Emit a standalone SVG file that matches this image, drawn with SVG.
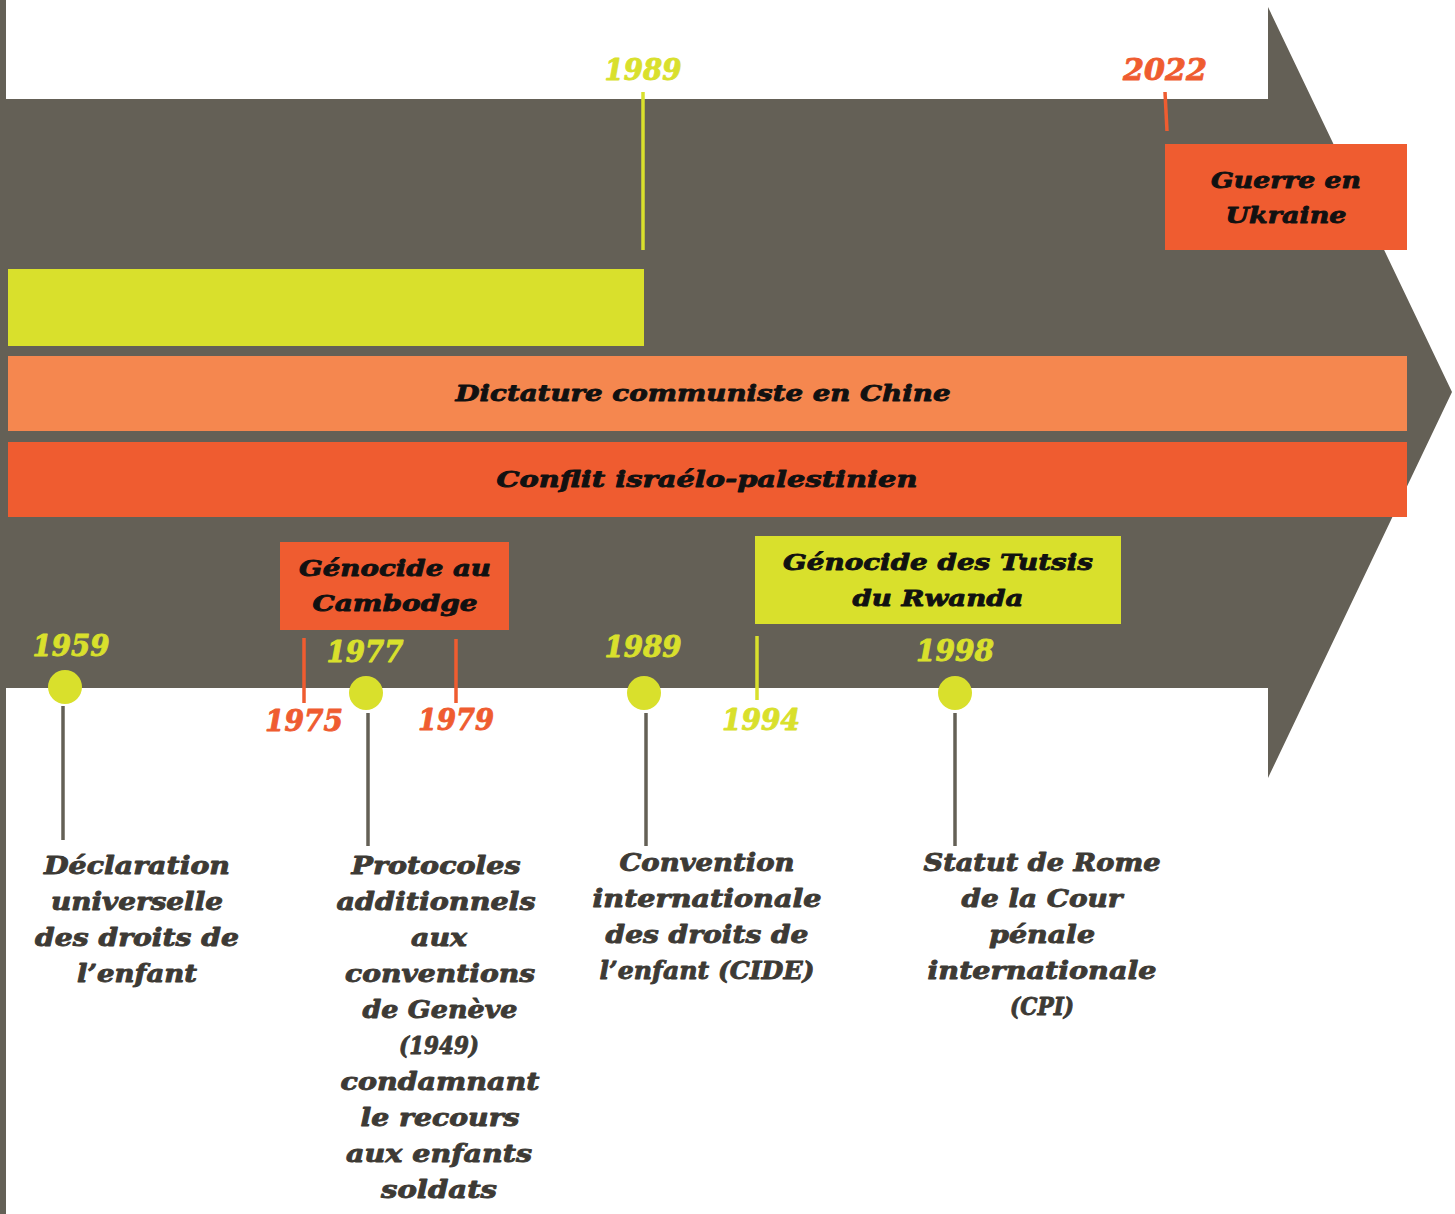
<svg xmlns="http://www.w3.org/2000/svg" width="1455" height="1214" viewBox="0 0 1455 1214">
<style>
.t{font-family:"DejaVu Serif","Liberation Serif",serif;font-weight:bold;font-style:italic;text-anchor:middle;stroke-width:0.9;stroke-linejoin:round}
.yr{font-size:30px}
.lime{fill:#d9e02c;stroke:#d9e02c}
.org{fill:#ef5c30;stroke:#ef5c30}
.blk{fill:#111;stroke:#111;font-size:23px}
.desc{fill:#3d3a35;stroke:#3d3a35;font-size:24px}
.stem{stroke:#646056;stroke-width:3.5}
</style>
<rect width="1455" height="1214" fill="#ffffff"/>
<g id="background-arrow">
<rect x="0" y="0" width="6" height="1214" fill="#646056"/>
<polygon points="6,99 1268,99 1268,7 1452,392 1268,778 1268,688 6,688" fill="#646056"/>
</g>
<g id="connectors">
<line x1="643" y1="92" x2="643" y2="250" stroke="#d9e02c" stroke-width="3.5"/>
<line x1="1165" y1="92" x2="1167" y2="131" stroke="#ef5c30" stroke-width="3.5"/>
<line x1="304" y1="638" x2="304" y2="703" stroke="#ef5c30" stroke-width="3.5"/>
<line x1="456" y1="639" x2="456" y2="703" stroke="#ef5c30" stroke-width="3.5"/>
<line x1="757" y1="636" x2="757" y2="700" stroke="#d9e02c" stroke-width="3.5"/>
<line class="stem" x1="63" y1="706" x2="63" y2="840"/>
<line class="stem" x1="368" y1="713" x2="368" y2="846"/>
<line class="stem" x1="646" y1="713" x2="646" y2="846"/>
<line class="stem" x1="955" y1="713" x2="955" y2="846"/>
</g>
<g id="bar-lime"><rect x="8" y="269" width="636" height="77" fill="#d9e02c"/></g>
<g id="bar-chine">
<rect x="8" y="356" width="1399" height="75" fill="#f5874f"/>
<text class="t blk" x="703" y="401" textLength="495" lengthAdjust="spacingAndGlyphs">Dictature communiste en Chine</text>
</g>
<g id="bar-conflit">
<rect x="8" y="442" width="1399" height="75" fill="#ef5c30"/>
<text class="t blk" x="707" y="487" textLength="421" lengthAdjust="spacingAndGlyphs">Conflit israélo-palestinien</text>
</g>
<g id="node-ukraine">
<rect x="1165" y="144" width="242" height="106" fill="#ef5c30"/>
<text class="t blk" x="1286" y="188" textLength="150" lengthAdjust="spacingAndGlyphs">Guerre en</text>
<text class="t blk" x="1286" y="223" textLength="121" lengthAdjust="spacingAndGlyphs">Ukraine</text>
</g>
<g id="node-cambodge">
<rect x="280" y="542" width="229" height="88" fill="#ef5c30"/>
<text class="t blk" x="395" y="576" textLength="192" lengthAdjust="spacingAndGlyphs">Génocide au</text>
<text class="t blk" x="395" y="611" textLength="165" lengthAdjust="spacingAndGlyphs">Cambodge</text>
</g>
<g id="node-rwanda">
<rect x="755" y="536" width="366" height="88" fill="#d9e02c"/>
<text class="t blk" x="938" y="570" textLength="310" lengthAdjust="spacingAndGlyphs">Génocide des Tutsis</text>
<text class="t blk" x="938" y="606" textLength="171" lengthAdjust="spacingAndGlyphs">du Rwanda</text>
</g>
<g id="year-labels">
<text class="t yr lime" x="643" y="80" textLength="77" lengthAdjust="spacingAndGlyphs">1989</text>
<text class="t yr org" x="1165" y="80" textLength="84" lengthAdjust="spacingAndGlyphs">2022</text>
<text class="t yr lime" x="71" y="656" textLength="77" lengthAdjust="spacingAndGlyphs">1959</text>
<text class="t yr lime" x="365" y="662" textLength="77" lengthAdjust="spacingAndGlyphs">1977</text>
<text class="t yr lime" x="643" y="657" textLength="77" lengthAdjust="spacingAndGlyphs">1989</text>
<text class="t yr lime" x="955" y="661" textLength="78" lengthAdjust="spacingAndGlyphs">1998</text>
<text class="t yr org" x="304" y="731" textLength="78" lengthAdjust="spacingAndGlyphs">1975</text>
<text class="t yr org" x="456" y="730" textLength="76" lengthAdjust="spacingAndGlyphs">1979</text>
<text class="t yr lime" x="761" y="730" textLength="78" lengthAdjust="spacingAndGlyphs">1994</text>
</g>
<g id="event-1959">
<circle cx="65" cy="687" r="17" fill="#d9e02c"/>
<text class="t desc" x="137" y="874" textLength="186" lengthAdjust="spacingAndGlyphs">Déclaration</text>
<text class="t desc" x="137" y="910" textLength="172" lengthAdjust="spacingAndGlyphs">universelle</text>
<text class="t desc" x="137" y="946" textLength="204" lengthAdjust="spacingAndGlyphs">des droits de</text>
<text class="t desc" x="137" y="982" textLength="120" lengthAdjust="spacingAndGlyphs">l’enfant</text>
</g>
<g id="event-1977">
<circle cx="366" cy="693" r="17" fill="#d9e02c"/>
<text class="t desc" x="436" y="874" textLength="169" lengthAdjust="spacingAndGlyphs">Protocoles</text>
<text class="t desc" x="436" y="910" textLength="199" lengthAdjust="spacingAndGlyphs">additionnels</text>
<text class="t desc" x="439" y="946" textLength="56" lengthAdjust="spacingAndGlyphs">aux</text>
<text class="t desc" x="440" y="982" textLength="190" lengthAdjust="spacingAndGlyphs">conventions</text>
<text class="t desc" x="440" y="1018" textLength="155" lengthAdjust="spacingAndGlyphs">de Genève</text>
<text class="t desc" x="439" y="1054" textLength="80" lengthAdjust="spacingAndGlyphs">(1949)</text>
<text class="t desc" x="440" y="1090" textLength="199" lengthAdjust="spacingAndGlyphs">condamnant</text>
<text class="t desc" x="440" y="1126" textLength="159" lengthAdjust="spacingAndGlyphs">le recours</text>
<text class="t desc" x="439" y="1162" textLength="186" lengthAdjust="spacingAndGlyphs">aux enfants</text>
<text class="t desc" x="439" y="1198" textLength="116" lengthAdjust="spacingAndGlyphs">soldats</text>
</g>
<g id="event-1989">
<circle cx="644" cy="693" r="17" fill="#d9e02c"/>
<text class="t desc" x="707" y="871" textLength="175" lengthAdjust="spacingAndGlyphs">Convention</text>
<text class="t desc" x="707" y="907" textLength="229" lengthAdjust="spacingAndGlyphs">internationale</text>
<text class="t desc" x="707" y="943" textLength="203" lengthAdjust="spacingAndGlyphs">des droits de</text>
<text class="t desc" x="707" y="979" textLength="215" lengthAdjust="spacingAndGlyphs">l’enfant (CIDE)</text>
</g>
<g id="event-1998">
<circle cx="955" cy="693" r="17" fill="#d9e02c"/>
<text class="t desc" x="1042" y="871" textLength="237" lengthAdjust="spacingAndGlyphs">Statut de Rome</text>
<text class="t desc" x="1042" y="907" textLength="161" lengthAdjust="spacingAndGlyphs">de la Cour</text>
<text class="t desc" x="1042" y="943" textLength="106" lengthAdjust="spacingAndGlyphs">pénale</text>
<text class="t desc" x="1042" y="979" textLength="229" lengthAdjust="spacingAndGlyphs">internationale</text>
<text class="t desc" x="1042" y="1015" textLength="64" lengthAdjust="spacingAndGlyphs">(CPI)</text>
</g>
</svg>
